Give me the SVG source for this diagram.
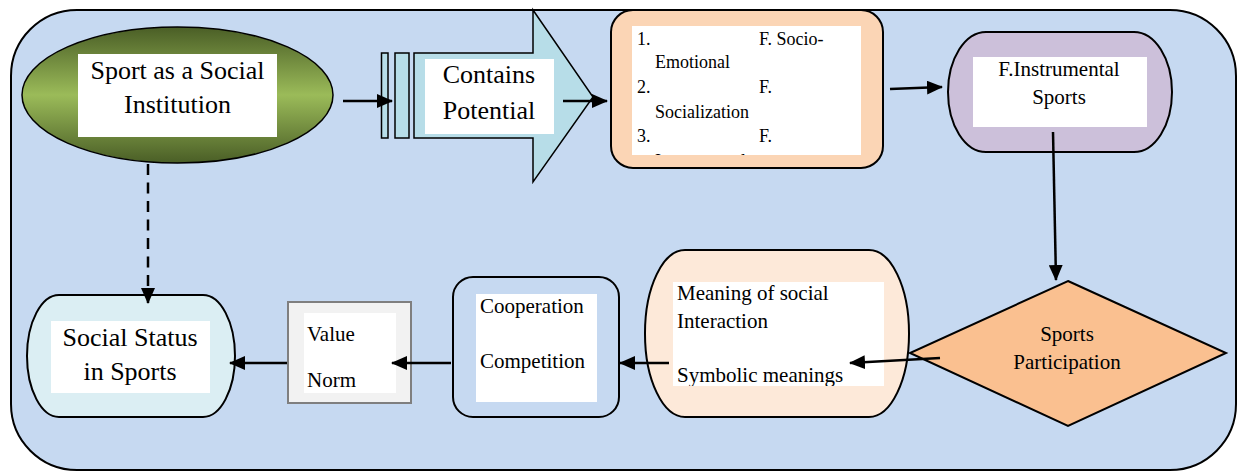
<svg xmlns="http://www.w3.org/2000/svg" width="1243" height="472" viewBox="0 0 1243 472">
  <style>
    text { font-family: 'Liberation Serif', 'Tinos', 'Times New Roman', 'DejaVu Serif', 'Noto Serif', serif; fill: #000; }
    .big { font-size: 26px; }
    .mid { font-size: 21px; }
    .sm { font-size: 18px; }
    .box { fill: #fff; }
    .edge { stroke: #000; stroke-width: 2.5; fill: none; }
    .outline { stroke: #000; stroke-width: 2; }
  </style>
  <defs>
    <linearGradient id="olive" x1="0" y1="0" x2="0" y2="1">
      <stop offset="0" stop-color="#4a5e26"/>
      <stop offset="0.5" stop-color="#9bbb59"/>
      <stop offset="1" stop-color="#4a5e26"/>
    </linearGradient>
    <marker id="head" markerUnits="userSpaceOnUse" markerWidth="16" markerHeight="14" refX="15" refY="7" orient="auto">
      <path d="M0,0 L16,7 L0,14 z" fill="#000"/>
    </marker>
    <clipPath id="clipFunctions">
      <rect x="632" y="26" width="229" height="129"/>
    </clipPath>
    <clipPath id="clipMeaning">
      <rect x="673" y="282" width="211" height="104"/>
    </clipPath>
  </defs>

  <!-- background panel -->
  <rect x="11" y="10" width="1225" height="460" rx="66" ry="66" fill="#c6d9f1" stroke="#000" stroke-width="2"/>

  <g id="node-institution">
    <ellipse cx="177.5" cy="95" rx="155.5" ry="68" fill="url(#olive)" stroke="#000" stroke-width="1.5"/>
    <rect class="box" x="78" y="54" width="199" height="83"/>
    <text class="big" x="177.5" y="79" text-anchor="middle">Sport as a Social</text>
    <text class="big" x="177.5" y="113" text-anchor="middle">Institution</text>
  </g>

  <g id="node-potential">
    <rect x="381.5" y="53" width="6.5" height="85" fill="#b7dde8" stroke="#000" stroke-width="1.5"/>
    <rect x="395" y="53" width="14" height="85" fill="#b7dde8" stroke="#000" stroke-width="1.5"/>
    <path d="M414,53 L533,53 L533,10 L593,97 L533,182 L533,138 L414,138 Z" fill="#b7dde8" stroke="#000" stroke-width="1.5"/>
    <rect class="box" x="425" y="59" width="129" height="75"/>
    <text class="big" x="489" y="83" text-anchor="middle">Contains</text>
    <text class="big" x="489" y="119" text-anchor="middle">Potential</text>
  </g>

  <g id="node-functions">
    <rect x="611" y="10" width="272" height="158" rx="22" ry="22" fill="#fbd5b5" class="outline"/>
    <rect class="box" x="632" y="26" width="229" height="129"/>
    <g clip-path="url(#clipFunctions)">
      <text class="sm" x="637" y="45">1.</text>
      <text class="sm" x="759" y="45">F. Socio-</text>
      <text class="sm" x="655" y="68">Emotional</text>
      <text class="sm" x="637" y="93">2.</text>
      <text class="sm" x="759" y="93">F.</text>
      <text class="sm" x="655" y="118">Socialization</text>
      <text class="sm" x="637" y="142">3.</text>
      <text class="sm" x="759" y="142">F.</text>
      <text class="sm" x="655" y="167">Instrumental</text>
    </g>
  </g>

  <g id="node-instrumental">
    <rect x="948" y="32" width="224" height="120" rx="38" ry="60" fill="#ccc0da" class="outline"/>
    <rect class="box" x="973" y="57" width="174" height="70"/>
    <text class="mid" x="1059" y="76" text-anchor="middle">F.Instrumental</text>
    <text class="mid" x="1059" y="104" text-anchor="middle">Sports</text>
  </g>

  <g id="node-participation">
    <path d="M1068,281 L1226,353 L1068,426 L910,353 Z" fill="#fac090" class="outline"/>
    <text class="mid" x="1067" y="341" text-anchor="middle">Sports</text>
    <text class="mid" x="1067" y="369" text-anchor="middle">Participation</text>
  </g>

  <g id="node-meaning">
    <rect x="645" y="250" width="264" height="167" rx="40" ry="83" fill="#fde9d9" class="outline"/>
    <rect class="box" x="673" y="282" width="211" height="104"/>
    <g clip-path="url(#clipMeaning)">
      <text class="mid" x="677" y="300">Meaning of social</text>
      <text class="mid" x="677" y="328">Interaction</text>
      <text class="mid" x="677" y="382">Symbolic meanings</text>
    </g>
  </g>

  <g id="node-cooperation">
    <rect x="453" y="277" width="166" height="140" rx="20" ry="20" fill="#c6d9f1" class="outline"/>
    <rect class="box" x="476" y="294" width="121" height="108"/>
    <text class="mid" x="480" y="313">Cooperation</text>
    <text class="mid" x="480" y="368">Competition</text>
  </g>

  <g id="node-values">
    <rect x="288" y="302" width="123" height="101" fill="#f2f2f2" stroke="#7f7f7f" stroke-width="2"/>
    <rect class="box" x="304" y="313" width="92" height="80"/>
    <text class="mid" x="307" y="341">Value</text>
    <text class="mid" x="307" y="387">Norm</text>
  </g>

  <g id="node-status">
    <rect x="27" y="295" width="208" height="122" rx="32" ry="61" fill="#dbeef3" class="outline"/>
    <rect class="box" x="51" y="321" width="159" height="72"/>
    <text class="big" x="130" y="346" text-anchor="middle">Social Status</text>
    <text class="big" x="130" y="380" text-anchor="middle">in Sports</text>
  </g>

  <g id="connectors">
    <line class="edge" x1="343" y1="101" x2="392" y2="101" marker-end="url(#head)"/>
    <line class="edge" x1="563" y1="101" x2="607" y2="101" marker-end="url(#head)"/>
    <line class="edge" x1="890" y1="89" x2="942" y2="87" marker-end="url(#head)"/>
    <line class="edge" x1="1053" y1="132" x2="1056" y2="280" marker-end="url(#head)"/>
    <line class="edge" x1="940" y1="358" x2="850" y2="363" marker-end="url(#head)"/>
    <line class="edge" x1="669" y1="363" x2="620" y2="363" marker-end="url(#head)"/>
    <line class="edge" x1="451" y1="363" x2="392" y2="363" marker-end="url(#head)"/>
    <line class="edge" x1="287" y1="363" x2="230" y2="363" marker-end="url(#head)"/>
    <line class="edge" x1="148" y1="164" x2="148" y2="303" stroke-dasharray="11 7.5" marker-end="url(#head)"/>
  </g>
</svg>
